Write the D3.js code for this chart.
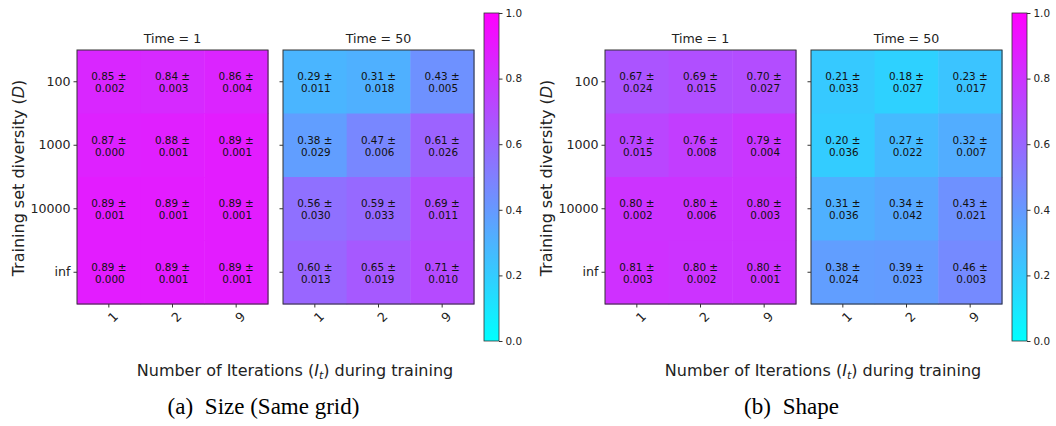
<!DOCTYPE html>
<html>
<head>
<meta charset="utf-8">
<script src="https://cdn.jsdelivr.net/npm/d3@7"></script>
<style>
    body { margin: 0; background: #fff; }
    svg { display: block; }
</style>
</head>
<body>
<svg id="chart" width="1056" height="426"></svg>
<script>
// Data
const diversity = ["100", "1000", "10000", "inf"]   // rows (D)
const iterations = ["1", "2", "9"]                  // columns (I_t)
const timeLabels = ["Time = 1", "Time = 50"]
const captionTags = ["(a)", "(b)"]
const captionTexts = ["Size (Same grid)", "Shape"]
const cbarTicks = [0, 0.2, 0.4, 0.6, 0.8, 1.0]

const sizeT1Mean = [[0.85, 0.84, 0.86], [0.87, 0.88, 0.89], [0.89, 0.89, 0.89], [0.89, 0.89, 0.89]]
const sizeT1Std = [[0.002, 0.003, 0.004], [0.000, 0.001, 0.001], [0.001, 0.001, 0.001], [0.000, 0.001, 0.001]]
const sizeT50Mean = [[0.29, 0.31, 0.43], [0.38, 0.47, 0.61], [0.56, 0.59, 0.69], [0.60, 0.65, 0.71]]
const sizeT50Std = [[0.011, 0.018, 0.005], [0.029, 0.006, 0.026], [0.030, 0.033, 0.011], [0.013, 0.019, 0.010]]

const shapeT1Mean = [[0.67, 0.69, 0.70], [0.73, 0.76, 0.79], [0.80, 0.80, 0.80], [0.81, 0.80, 0.80]]
const shapeT1Std = [[0.024, 0.015, 0.027], [0.015, 0.008, 0.004], [0.002, 0.006, 0.003], [0.003, 0.002, 0.001]]
const shapeT50Mean = [[0.21, 0.18, 0.23], [0.20, 0.27, 0.32], [0.31, 0.34, 0.43], [0.38, 0.39, 0.46]]
const shapeT50Std = [[0.033, 0.027, 0.017], [0.036, 0.022, 0.007], [0.036, 0.042, 0.021], [0.024, 0.023, 0.003]]

// layout (one figure, second one shifted right)
const figOffset = 528
const panelX = [77, 283]
const panelW = 191
const panelTop = 50
const panelBottom = 304
const cbar = {x: 484, w: 15, top: 13, bottom: 341}
const sansFont = "'DejaVu Sans', sans-serif"
const serifFont = "'Liberation Serif', 'Times New Roman', serif"
const textColor = "#222"

// matplotlib "cool" colormap
const cool = t => d3.rgb(255 * t, 255 * (1 - t), 255)

const svg = d3.select("#chart")
const defs = svg.append("defs")

const grad = defs.append("linearGradient")
    .attr("id", "coolGrad")
    .attr("x1", 0).attr("y1", 1)
    .attr("x2", 0).attr("y2", 0)
d3.range(0, 1.0001, 0.1).forEach(t => {
    grad.append("stop")
        .attr("offset", t)
        .attr("stop-color", cool(t))
})

function cellData(means, stds) {
    const out = []
    means.forEach((row, i) => row.forEach((m, j) => {
        out.push({row: diversity[i], col: iterations[j], mean: m, std: stds[i][j]})
    }))
    return out
}

function styleAxis(axisG, size) {
    axisG.select(".domain").remove()
    axisG.selectAll("line").attr("stroke", "#333")
    axisG.selectAll("text")
        .attr("fill", textColor)
        .style("font-family", sansFont)
        .style("font-size", size + "px")
}

function drawFigure(offset, panels, tag, caption) {
    const fig = svg.append("g").attr("transform", `translate(${offset},0)`)

    const y = d3.scaleBand().domain(diversity).range([panelTop, panelBottom])

    panels.forEach((p, k) => {
        const x = d3.scaleBand().domain(iterations).range([panelX[k], panelX[k] + panelW])
        const g = fig.append("g")
        const cells = cellData(p.mean, p.std)

        g.selectAll("rect.cell")
            .data(cells)
            .join("rect")
            .attr("class", "cell")
            .attr("x", d => x(d.col))
            .attr("y", d => y(d.row))
            .attr("width", x.bandwidth() + 0.5)
            .attr("height", y.bandwidth() + 0.5)
            .attr("fill", d => cool(d.mean))

        const labels = g.selectAll("text.val")
            .data(cells)
            .join("text")
            .attr("class", "val")
            .attr("text-anchor", "middle")
            .attr("fill", "#111")
            .style("font-family", sansFont)
            .style("font-size", "10.4px")
        labels.append("tspan")
            .attr("x", d => x(d.col) + x.bandwidth() / 2)
            .attr("y", d => y(d.row) + y.bandwidth() / 2 - 1.5)
            .text(d => d.mean.toFixed(2) + " \u00b1")
        labels.append("tspan")
            .attr("x", d => x(d.col) + x.bandwidth() / 2 + 1)
            .attr("y", d => y(d.row) + y.bandwidth() / 2 + 10.5)
            .text(d => d.std.toFixed(3))

        // spine
        g.append("rect")
            .attr("x", panelX[k]).attr("y", panelTop)
            .attr("width", panelW).attr("height", panelBottom - panelTop)
            .attr("fill", "none")
            .attr("stroke", "#333")
            .attr("stroke-width", 1)

        g.append("text")
            .attr("x", panelX[k] + panelW / 2)
            .attr("y", panelTop - 7.5)
            .attr("text-anchor", "middle")
            .attr("fill", textColor)
            .style("font-family", sansFont)
            .style("font-size", "12.6px")
            .text(timeLabels[k])

        const yAxis = g.append("g")
            .attr("transform", `translate(${panelX[k]},0)`)
            .call(d3.axisLeft(y).tickSize(3.5).tickPadding(3))
        styleAxis(yAxis, 12.6)
        if (k > 0) yAxis.selectAll("text").remove()

        const xAxis = g.append("g")
            .attr("transform", `translate(0,${panelBottom})`)
            .call(d3.axisBottom(x).tickSize(3.5).tickPadding(3))
        styleAxis(xAxis, 12.6)
        xAxis.selectAll("text")
            .attr("text-anchor", "middle")
            .attr("dy", null)
            .attr("y", 0)
            .attr("transform", "translate(4,13) rotate(-45)")
            .attr("dominant-baseline", "central")
    })

    // colorbar
    const cScale = d3.scaleLinear().domain([0, 1]).range([cbar.bottom, cbar.top])
    fig.append("rect")
        .attr("x", cbar.x).attr("y", cbar.top)
        .attr("width", cbar.w).attr("height", cbar.bottom - cbar.top)
        .attr("fill", "url(#coolGrad)")
        .attr("stroke", "#333")
        .attr("stroke-width", 0.8)
    const cAxis = fig.append("g")
        .attr("transform", `translate(${cbar.x + cbar.w},0)`)
        .call(d3.axisRight(cScale).tickValues(cbarTicks).tickFormat(d3.format(".1f")).tickSize(3.5).tickPadding(3))
    styleAxis(cAxis, 10.4)

    // axis labels
    const yl = fig.append("text")
        .attr("transform", `translate(23.5,${(panelTop + panelBottom) / 2 + 1}) rotate(-90)`)
        .attr("text-anchor", "middle")
        .attr("fill", textColor)
        .style("font-family", sansFont)
        .style("font-size", "16px")
    yl.append("tspan").text("Training set diversity (")
    yl.append("tspan").style("font-style", "italic").text("D")
    yl.append("tspan").text(")")

    const xl = fig.append("text")
        .attr("x", 295)
        .attr("y", 376)
        .attr("text-anchor", "middle")
        .attr("fill", textColor)
        .style("font-family", sansFont)
        .style("font-size", "16px")
    xl.append("tspan").text("Number of Iterations (")
    xl.append("tspan").style("font-style", "italic").text("I")
    xl.append("tspan").style("font-style", "italic").style("font-size", "11px").attr("dy", 3).text("t")
    xl.append("tspan").attr("dy", -3).text(") during training")

    const cap = fig.append("text")
        .attr("x", 263.5)
        .attr("y", 414)
        .attr("text-anchor", "middle")
        .attr("fill", "#000")
        .style("font-family", serifFont)
        .style("font-size", "23px")
    cap.append("tspan").text(tag)
    cap.append("tspan").attr("dx", 6).text(" " + caption)
}

drawFigure(0, [
    {mean: sizeT1Mean, std: sizeT1Std},
    {mean: sizeT50Mean, std: sizeT50Std}
], captionTags[0], captionTexts[0])

drawFigure(figOffset, [
    {mean: shapeT1Mean, std: shapeT1Std},
    {mean: shapeT50Mean, std: shapeT50Std}
], captionTags[1], captionTexts[1])
</script>
</body>
</html>
